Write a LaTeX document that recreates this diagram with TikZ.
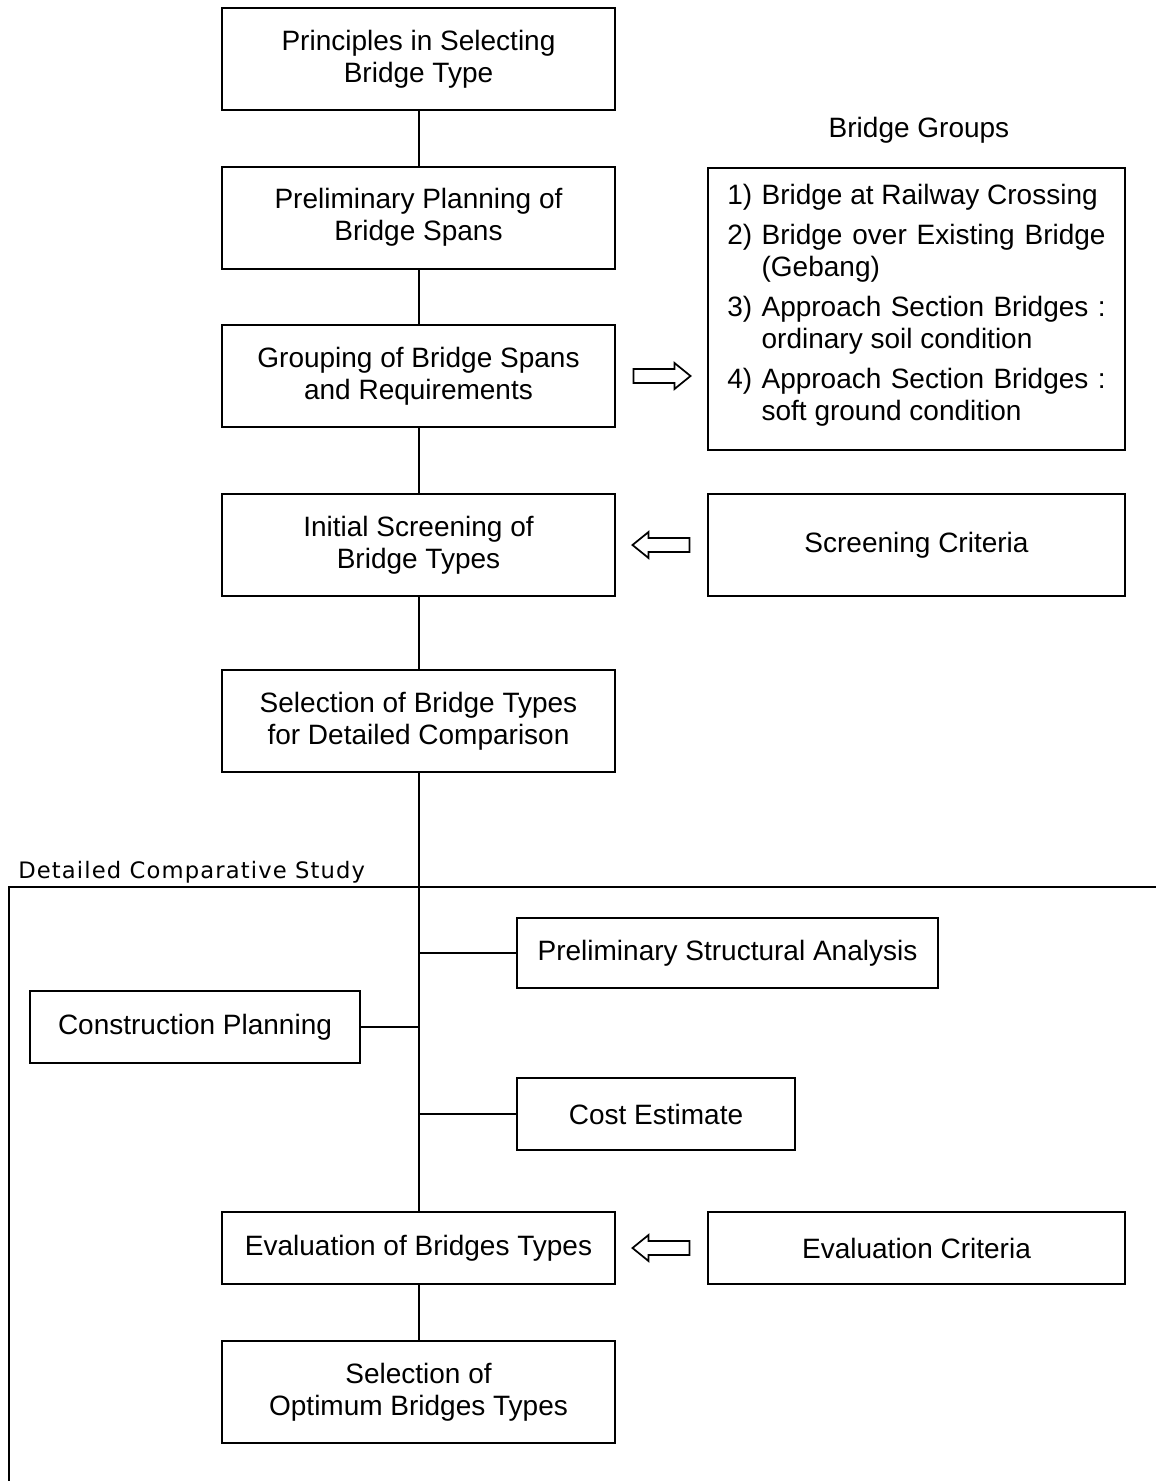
\documentclass[tikz,border=0pt]{standalone}
\usepackage{fontspec}
\setmainfont{Liberation Sans}
\newfontfamily\labelfont[LetterSpace=5]{DejaVu Sans}
\usepackage{tikz}
\usetikzlibrary{positioning,calc}

\tikzset{
  procbox/.style={draw,line width=1.5pt,minimum width=294.75pt,minimum height=76.5pt,align=center,inner sep=0pt},
  sidebox/.style={draw,line width=1.5pt,minimum width=312.75pt,minimum height=76.5pt,align=center,inner sep=0pt},
  link/.style={line width=1.5pt},
  fatarrow/.pic={
    \draw[line width=1.3pt] (-28,-7) -- (13,-7) -- (13,-13) -- (29,0) -- (13,13) -- (13,7) -- (-28,7) -- cycle;
  }
}

\begin{document}
\begin{tikzpicture}[x=0.75pt,y=-0.75pt,font=\fontsize{21}{24}\selectfont]
  \useasboundingbox (0,0) rectangle (1156,1481);

  % --- main column ---
  \node[procbox] (principles) at (418.5,59) {Principles in Selecting\\Bridge Type};
  \node[procbox] (spans) at (418.5,217.5) {Preliminary Planning of\\Bridge Spans};
  \node[procbox] (grouping) at (418.5,376) {Grouping of Bridge Spans\\and Requirements};
  \node[procbox] (screening) at (418.5,545) {Initial Screening of\\Bridge Types};
  \node[procbox] (selection) at (418.5,721) {Selection of Bridge Types\\for Detailed Comparison};
  \node[procbox,minimum height=54pt] (evaluation) at (418.5,1248) {Evaluation of Bridges Types};
  \node[procbox] (optimum) at (418.5,1392) {Selection of\\Optimum Bridges Types};

  % --- right hand boxes ---
  \node (groupstitle) at (919,130) {Bridge Groups};
  \node[sidebox,minimum height=211.5pt,anchor=north] (groups) at (916.5,167) {%
    \begin{tabular}{@{}l@{\hspace{7pt}}p{258pt}@{}}
      1) & Bridge at Railway Crossing\\[6pt]
      2) & Bridge over Existing Bridge (Gebang)\\[6pt]
      3) & Approach Section Bridges : ordinary soil condition\\[6pt]
      4) & Approach Section Bridges : soft ground condition
    \end{tabular}\\[4pt]};
  \node[sidebox] (criteria) at (916.5,545) {Screening Criteria};
  \node[sidebox,minimum height=54pt] (evcriteria) at (916.5,1248) {Evaluation Criteria};

  % --- detailed study boxes ---
  \node[procbox,minimum width=315.75pt,minimum height=52.5pt] (structural) at (727.5,953) {Preliminary Structural Analysis};
  \node[procbox,minimum width=247.5pt,minimum height=54pt] (construction) at (195,1027) {Construction Planning};
  \node[procbox,minimum width=208.5pt,minimum height=54pt] (cost) at (656,1114) {Cost Estimate};

  % --- trunk ---
  \draw[link] (principles) -- (spans);
  \draw[link] (spans) -- (grouping);
  \draw[link] (grouping) -- (screening);
  \draw[link] (screening) -- (selection);
  \draw[link] (selection) -- (evaluation);
  \draw[link] (evaluation) -- (optimum);

  % --- branches ---
  \draw[link] (structural.west) -- (structural.west -| selection.south);
  \draw[link] (construction.east) -- (construction.east -| selection.south);
  \draw[link] (cost.west) -- (cost.west -| selection.south);

  % --- hollow arrows ---
  \pic at ($(grouping.east)!0.5!(grouping.east -| groups.west)$) {fatarrow};
  \pic[xscale=-1] at ($(screening.east)!0.5!(criteria.west)$) {fatarrow};
  \pic[xscale=-1] at ($(evaluation.east)!0.5!(evcriteria.west)$) {fatarrow};

  % --- study frame ---
  \coordinate (framecorner) at (9,887);
  \draw[line width=1.9pt] (9,1481) -- (framecorner) -- (1156,887);
  \node[font=\labelfont\fontsize{17}{20}\selectfont,anchor=base west,inner sep=0pt] (studylabel) at (18,878) {Detailed Comparative Study};
\end{tikzpicture}
\end{document}
